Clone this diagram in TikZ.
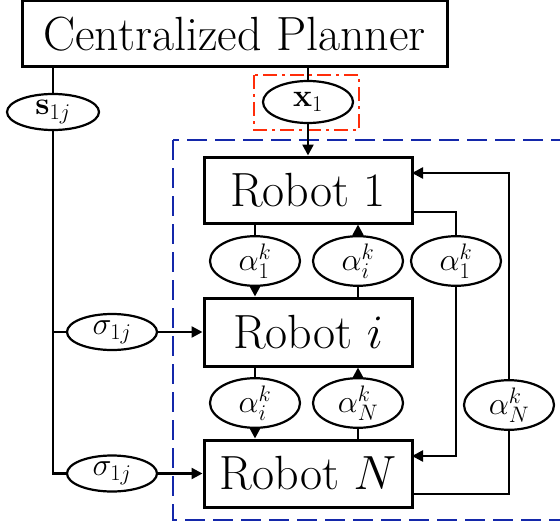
\RequirePackage{fix-cm}
\documentclass[tikz,border=0pt]{standalone}
\usetikzlibrary{arrows.meta,shapes.geometric}
\definecolor{dblue}{RGB}{20,40,170}
\definecolor{dred}{RGB}{255,45,10}
\begin{document}
\begin{tikzpicture}[x=1pt,y=-1pt,
  box/.style={draw,line width=3pt,inner sep=0pt,font=\fontsize{48}{54}\selectfont},
  ell/.style={draw,ellipse,fill=white,line width=2.2pt,inner sep=0pt,minimum width=90pt,minimum height=42pt,font=\fontsize{32}{36}\selectfont},
  conn/.style={line width=2.4pt},
  arr/.style={line width=2.4pt,-{Triangle[length=11pt,width=11pt]}}]
\useasboundingbox (0,0) rectangle (560,527);
\begin{scope}
\clip (0,0) rectangle (560,527);
\draw[dblue,line width=2.4pt,dash pattern=on 20pt off 8pt] (173,140) rectangle (580,520);
\end{scope}
\draw[dred,line width=2.6pt,dash pattern=on 14pt off 5pt on 3pt off 5pt] (254,75) rectangle (359,130);
% nodes
\node[box,minimum width=425pt,minimum height=66pt] (cp) at (234.5,34) {Centralized Planner};
\node[box,minimum width=208pt,minimum height=66pt] (r1) at (308,190) {Robot 1};
\node[box,minimum width=208pt,minimum height=68pt] (ri) at (308,332) {Robot $i$};
\node[box,minimum width=208pt,minimum height=67pt] (rN) at (308,473.5) {Robot $N$};
\node[ell,minimum width=92pt,minimum height=36pt] (s1) at (53,112) {$\mathbf{s}_{1j}$};
\node[ell,minimum height=42pt] (x1) at (308,102) {$\mathbf{x}_1$};
\node[ell,minimum height=36pt] (sg1) at (112,332) {$\sigma_{1j}$};
\node[ell,minimum height=36pt] (sg2) at (112,473.5) {$\sigma_{1j}$};
\node[ell,minimum height=44pt] (a11) at (255,261) {$\alpha_1^k$};
\node[ell,minimum height=44pt] (ai1) at (358,261) {$\alpha_i^k$};
\node[ell,minimum height=44pt] (a1r) at (456,261) {$\alpha_1^k$};
\node[ell,minimum height=44pt] (ai2) at (255,403) {$\alpha_i^k$};
\node[ell,minimum height=44pt] (aN2) at (358,403) {$\alpha_N^k$};
\node[ell,minimum height=44pt] (aNr) at (509,405) {$\alpha_N^k$};
% helper coordinates
\coordinate (o1) at (412,212);
\coordinate (c1) at (456,212);
\coordinate (c2) at (456,456);
\coordinate (iN) at (412,456);
\coordinate (oN) at (412,494);
\coordinate (d1) at (509,494);
\coordinate (d2) at (509,173);
\coordinate (i1) at (412,173);
% connectors
\draw[conn] (x1 |- cp.south) -- (x1.north);
\draw[arr] (x1.south) -- (r1.north);
\draw[conn] (s1 |- cp.south) -- (s1.north);
\draw[conn] (s1.south) -- (s1 |- sg2) -- (sg2.west);
\draw[conn] (s1 |- sg1) -- (sg1.west);
\draw[arr] (sg1.east) -- (ri.west);
\draw[arr] (sg2.east) -- (rN.west);
\draw[conn] (a11 |- r1.south) -- (a11.north);
\draw[arr] (a11.south) -- (a11 |- ri.north);
\draw[conn] (ai1 |- ri.north) -- (ai1.south);
\draw[arr] (ai1.north) -- (ai1 |- r1.south);
\draw[conn] (o1) -- (c1) -- (a1r.north);
\draw[arr] (a1r.south) -- (c2) -- (iN);
\draw[conn] (ai2 |- ri.south) -- (ai2.north);
\draw[arr] (ai2.south) -- (ai2 |- rN.north);
\draw[conn] (aN2 |- rN.north) -- (aN2.south);
\draw[arr] (aN2.north) -- (aN2 |- ri.south);
\draw[conn] (oN) -- (d1) -- (aNr.south);
\draw[arr] (aNr.north) -- (d2) -- (i1);
\end{tikzpicture}
\end{document}
